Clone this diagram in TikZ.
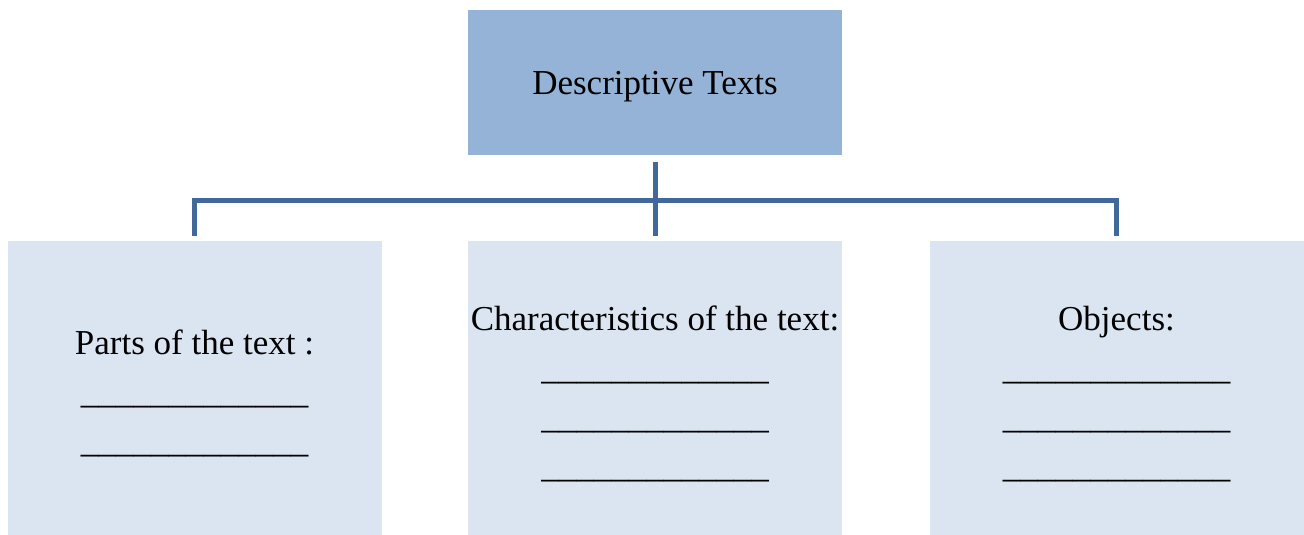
\documentclass[tikz,border=0pt]{standalone}
\usepackage{fontspec}
\setmainfont{Liberation Serif}
\definecolor{topfill}{HTML}{95B3D7}
\definecolor{boxfill}{HTML}{DBE5F1}
\definecolor{connc}{RGB}{65,104,155}
\newcommand{\myblank}{\_\_\_\_\_\_\_\_\_\_\_\_\_}
\newcommand{\mylift}{\rule{0pt}{36pt}}
\begin{document}
\begin{tikzpicture}[x=1pt,y=1pt,
  headbox/.style={fill=topfill, draw=none, inner sep=0pt, minimum width=374pt, minimum height=145pt,
    font=\fontsize{35}{49}\selectfont, align=center, execute at begin node={\rule{0pt}{32pt}}},
  subbox/.style={fill=boxfill, draw=none, inner sep=0pt, minimum width=374pt, minimum height=294pt,
    font=\fontsize{35}{49}\selectfont, align=center},
  conn/.style={draw=connc, line width=5pt, line join=miter}]
\useasboundingbox (0,0) rectangle (1304,-535);
\node[headbox] (top) at (655,-82.5) {Descriptive Texts};
\node[subbox] (left) at (194.5,-388) {\mylift Parts of the text :\\\myblank\\\myblank};
\node[subbox] (mid) at (655,-388) {\mylift Characteristics of the text:\\\myblank\\\myblank\\\myblank};
\node[subbox] (right) at (1116.5,-388) {\mylift Objects:\\\myblank\\\myblank\\\myblank};
\coordinate (bus) at (655,-200);
\draw[conn] ([yshift=-7pt]top.south) -- ([yshift=5pt]mid.north);
\draw[conn] ([yshift=5pt]left.north) |- (bus) -| ([yshift=5pt]right.north);
\end{tikzpicture}
\end{document}
